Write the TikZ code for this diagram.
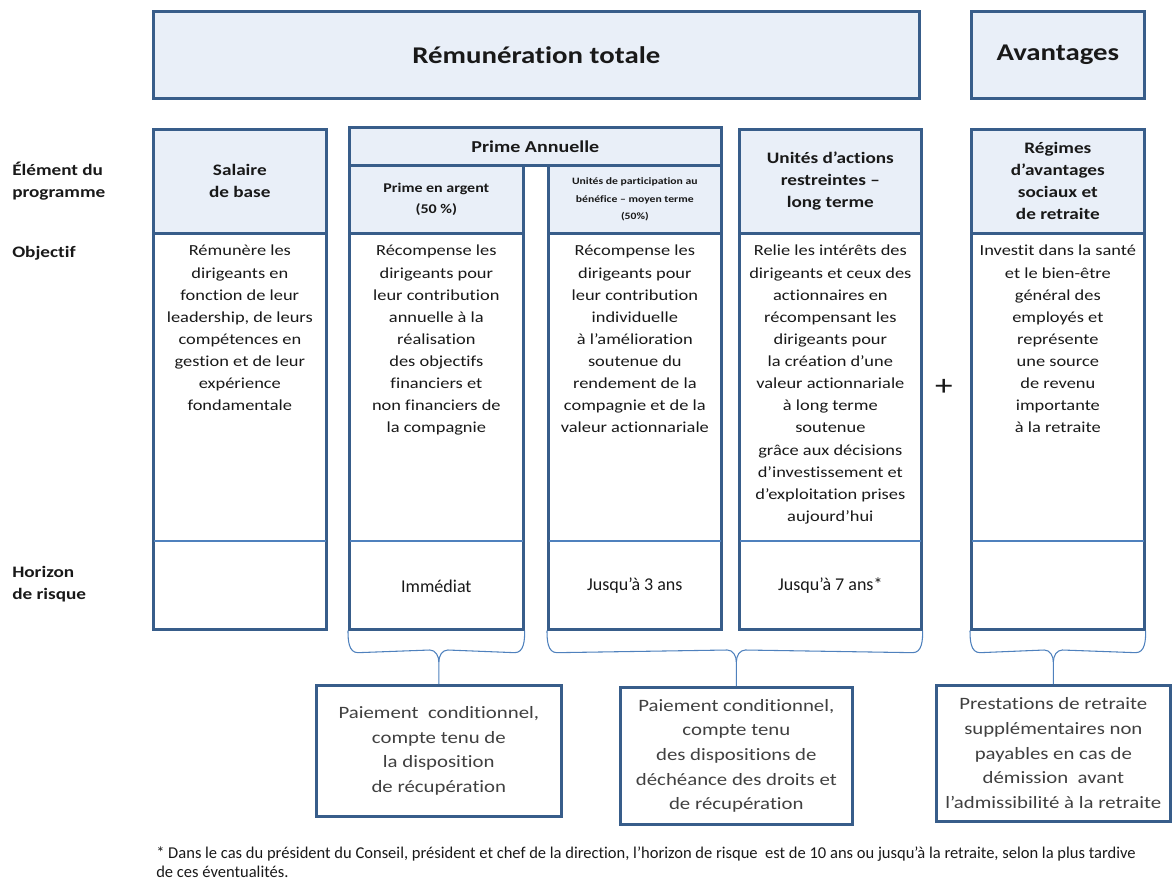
\documentclass[tikz,border=0pt]{standalone}
\usepackage{fontspec}
\setmainfont{Carlito}[FakeStretch=1.2, Ligatures=NoCommon]
\newfontfamily\notef{Carlito}[Ligatures=NoCommon]
\usetikzlibrary{calc}

\definecolor{bordc}{RGB}{56,93,138}
\definecolor{linec}{RGB}{79,129,189}
\definecolor{fillc}{RGB}{233,239,248}
\definecolor{txtc}{RGB}{25,25,25}
\definecolor{greyc}{RGB}{64,64,64}

\tikzset{
  sz/.style 2 args={minimum width=#1*0.75pt, minimum height=#2*0.75pt},
  col/.style={draw=bordc, line width=2pt, fill=white, inner sep=0pt, anchor=north west},
  hd/.style={col, fill=fillc, align=center, text=txtc, font=\bfseries\fontsize{12}{16.5}\selectfont},
  obj/.style={anchor=north, align=center, inner sep=0pt, text=txtc, font=\fontsize{11.5}{16.6}\selectfont},
  hz/.style={inner sep=0pt, text=txtc, font=\notef\fontsize{13.5}{16}\selectfont},
  rowlbl/.style={anchor=west, align=left, inner sep=0pt, text=txtc, font=\bfseries\fontsize{12}{16.5}\selectfont},
  bx/.style={col, align=center, text=greyc, font=\fontsize{13}{18.5}\selectfont},
  sepl/.style={draw=linec, line width=1pt},
  brc/.style={draw=linec, line width=0.8pt}
}

\begin{document}
\begin{tikzpicture}[x=0.75pt, y=-0.75pt]
\useasboundingbox (0,0) rectangle (1173,882);

% titres
\node[hd, sz={766}{87}, font=\bfseries\fontsize{18}{22}\selectfont] (tot) at (152,10) {Rémunération totale};
\node[hd, sz={173}{87}, font=\bfseries\fontsize{18}{22}\selectfont] (avg) at (970,10) {Avantages};

% colonnes
\node[col, sz={173}{500}] (c1) at (152,128) {};
\node[col, sz={174}{464}] (c2) at (348,164) {};
\node[col, sz={173}{464}] (c3) at (547,164) {};
\node[col, sz={182}{500}] (c4) at (738,128) {};
\node[col, sz={173}{500}] (c5) at (970,128) {};

\coordinate (sep) at (0,541);
\foreach \c in {c1, c2, c3, c4, c5}{
    \draw[sepl] ([xshift=1.5pt]\c.west |- sep) -- ([xshift=-1.5pt]\c.east |- sep);
}

% en-tetes
\node[hd, sz={173}{104}] (h1) at (152,128) {Salaire\\de base};
\node[hd, sz={372}{38}, font=\bfseries\fontsize{12.5}{16}\selectfont] (pa) at (348,126) {Prime Annuelle};
\node[hd, sz={174}{68}, font=\bfseries\fontsize{10}{15.5}\selectfont] (h2) at (348,164) {Prime en argent\\(50~\%)};
\node[hd, sz={173}{68}, font=\bfseries\fontsize{7.3}{13}\selectfont] (h3) at (547,164) {Unités de participation au\\bénéfice – moyen terme\\(50\%)};
\node[hd, sz={182}{104}] (h4) at (738,128) {Unités d’actions\\restreintes –\\long terme};
\node[hd, sz={173}{104}] (h5) at (970,128) {Régimes\\d’avantages\\sociaux et\\de retraite};

% lignes
\node[rowlbl] (lel) at (12,181) {Élément du\\programme};
\node[rowlbl] (lob) at (12,253) {Objectif};
\node[rowlbl] (lhz) at (12,584) {Horizon\\de risque};

% objectifs
\node[obj] (o1) at (c1.north |- 0,245) {Rémunère les\\dirigeants en\\fonction de leur\\leadership, de leurs\\compétences en\\gestion et de leur\\expérience\\fondamentale};
\node[obj] (o2) at (c2.north |- 0,245) {Récompense les\\dirigeants pour\\leur contribution\\annuelle à la\\réalisation\\des objectifs\\financiers et\\non financiers de\\la compagnie};
\node[obj] (o3) at (c3.north |- 0,245) {Récompense les\\dirigeants pour\\leur contribution\\individuelle\\à l’amélioration\\soutenue du\\rendement de la\\compagnie et de la\\valeur actionnariale};
\node[obj] (o4) at (c4.north |- 0,245) {Relie les intérêts des\\dirigeants et ceux des\\actionnaires en\\récompensant les\\dirigeants pour\\la création d’une\\valeur actionnariale\\à long terme\\soutenue\\grâce aux décisions\\d’investissement et\\d’exploitation prises\\aujourd’hui};
\node[obj] (o5) at (c5.north |- 0,245) {Investit dans la santé\\et le bien-être\\général des\\employés et\\représente\\une source\\de revenu\\importante\\à la retraite};

\node[font=\fontsize{22}{22}\selectfont, text=txtc] (plus) at (944,387) {+};

% horizon
\node[hz] (z2) at (c2.north |- 0,586) {Immédiat};
\node[hz] (z3) at (c3.north |- 0,586) {Jusqu’à 3 ans};
\node[hz] (z4) at (c4.north |- 0,586) {Jusqu’à 7 ans*};

% boites du bas
\node[bx, sz={245}{131}] (b1) at (315,684) {Paiement~ conditionnel,\\compte tenu de\\la disposition\\de récupération};
\node[bx, sz={232}{137}] (b2) at (619,686) {Paiement conditionnel,\\compte tenu\\des dispositions de\\déchéance des droits et\\de récupération};
\node[bx, sz={234}{136}] (b3) at (935,684) {Prestations de retraite\\supplémentaires non\\payables en cas de\\démission~ avant\\l’admissibilité à la retraite};

% accolades
\coordinate (brl) at (0,650);
\foreach \l/\r/\b in {c2/c2/b1, c3/c4/b2, c5/c5/b3}{
    \coordinate (k) at (\b.north |- brl);
    \draw[brc] (\l.south west) to[out=-90, in=180] ($(\l.south west)+(10,22)$) -- ($(k)+(-9,0)$) to[out=0, in=90] ($(k)+(0,12)$) -- (\b.north);
    \draw[brc] (\r.south east) to[out=-90, in=0] ($(\r.south east)+(-10,22)$) -- ($(k)+(9,0)$) to[out=180, in=90] ($(k)+(0,12)$);
}

% note
\node[anchor=north west, align=left, inner sep=0pt, text=txtc, font=\notef\fontsize{12.4}{14.3}\selectfont] (fn) at (156,846) {* Dans le cas du président du Conseil, président et chef de la direction, l’horizon de risque~ est de 10 ans ou jusqu’à la retraite, selon la plus tardive\\de ces éventualités.};

\end{tikzpicture}
\end{document}
